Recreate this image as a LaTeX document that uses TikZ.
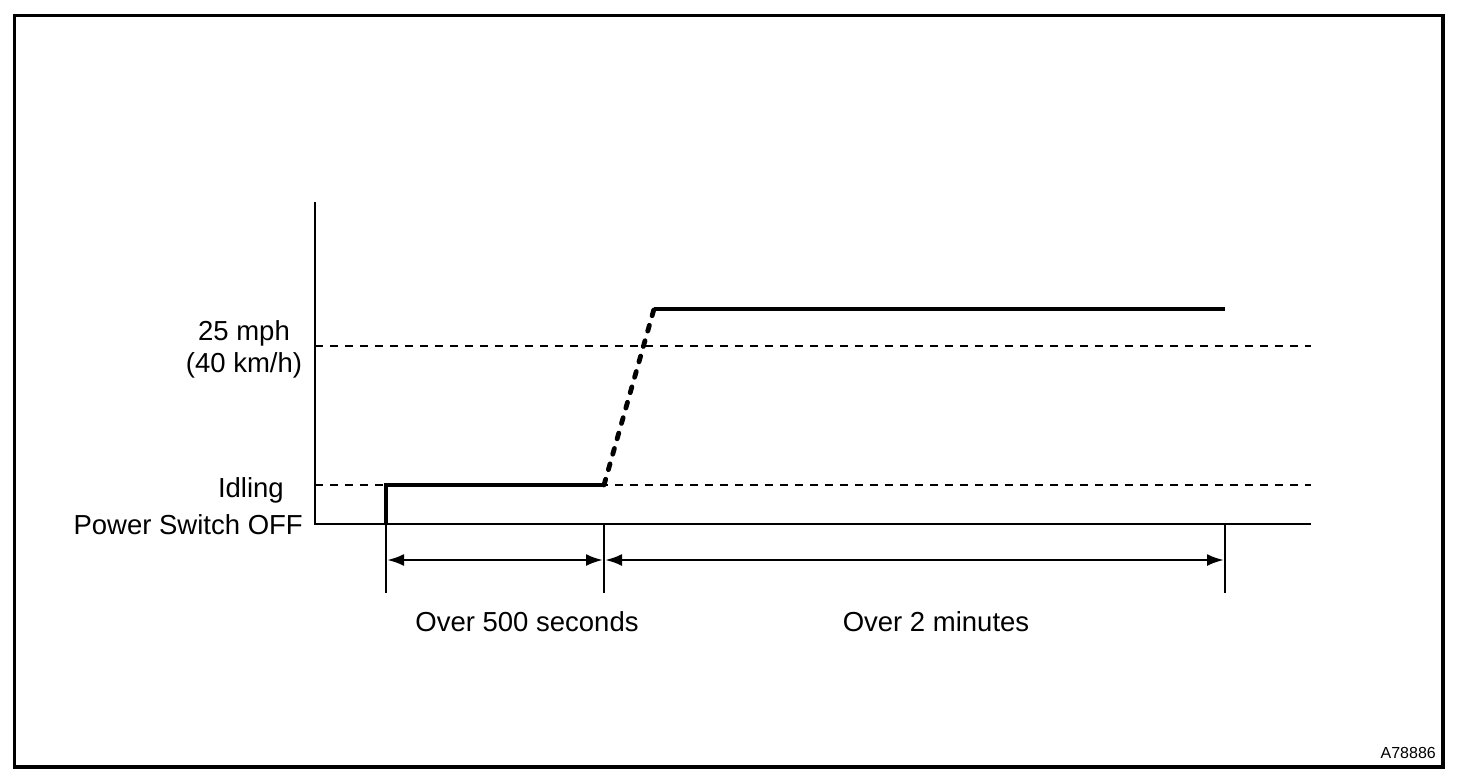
\documentclass[tikz,border=0pt]{standalone}
\usepackage{fontspec}
\setmainfont{Liberation Sans}
\usetikzlibrary{arrows.meta}
\begin{document}
\begin{tikzpicture}[x=1pt,y=-1pt,
  axisline/.style={line width=2.4pt},
  refline/.style={line width=1.6pt, dash pattern=on 8pt off 7pt},
  curve/.style={line width=4.8pt},
  curvedash/.style={line width=4.8pt, dash pattern=on 6pt off 10pt},
  tickline/.style={line width=2pt},
  dimline/.style={line width=2.6pt, {Latex[length=17pt,width=12pt]}-{Latex[length=17pt,width=12pt]}},
  lbl/.style={font=\fontsize{27.5}{30}\selectfont, inner sep=0pt},
  small/.style={font=\fontsize{16}{18}\selectfont, inner sep=0pt}]
\useasboundingbox (0,0) rectangle (1472,780);
\fill[white] (0,0) rectangle (1472,780);
\draw[line width=3.4pt] (14.5,15.5) rectangle (1443,767);
% axes
\coordinate (ytop) at (315,202);
\coordinate (orig) at (315,524);
\coordinate (xend) at (1311,524);
\draw[axisline] (ytop) -- (orig) -- (xend);
% reference lines
\coordinate (hiL) at (315,346);
\coordinate (hiR) at (1311,346);
\coordinate (idL) at (315,485);
\coordinate (idR) at (1311,485);
\draw[refline] (hiL) -- (hiR);
\draw[refline] (idL) -- (idR);
% speed profile
\coordinate (p0) at (386,525);
\coordinate (p1) at (386,485);
\coordinate (p2) at (604,485);
\coordinate (p3) at (654,309);
\coordinate (p4) at (1225,309);
\draw[curve, line join=miter] (p0) -- (p1) -- (p2);
\draw[curvedash, line cap=round] (p2) -- (p3);
\draw[curve] (p3) -- (p4);
% ticks
\coordinate (t1a) at (386,524); \coordinate (t1b) at (386,593);
\coordinate (t2a) at (604,524); \coordinate (t2b) at (604,593);
\coordinate (t3a) at (1225,524); \coordinate (t3b) at (1225,593);
\draw[tickline] (t1a) -- (t1b);
\draw[tickline] (t2a) -- (t2b);
\draw[tickline] (t3a) -- (t3b);
% dimension arrows
\coordinate (d1) at (387,560);
\coordinate (d2) at (603,560);
\coordinate (d3) at (605,560);
\coordinate (d4) at (1224,560);
\draw[dimline] (d1) -- (d2);
\draw[dimline] (d3) -- (d4);
% labels
\node[lbl, anchor=base] (mph) at (244,340) {25 mph};
\node[lbl, anchor=base] (kmh) at (244,372) {(40 km/h)};
\node[lbl, anchor=base east] (idl) at (284,497) {Idling};
\node[lbl, anchor=base east] (off) at (303,534) {Power Switch OFF};
\node[lbl, anchor=base] (o500) at (527,631) {Over 500 seconds};
\node[lbl, anchor=base] (o2m) at (936,631) {Over 2 minutes};
\node[small, anchor=base east] (code) at (1436,758) {A78886};
\end{tikzpicture}
\end{document}
